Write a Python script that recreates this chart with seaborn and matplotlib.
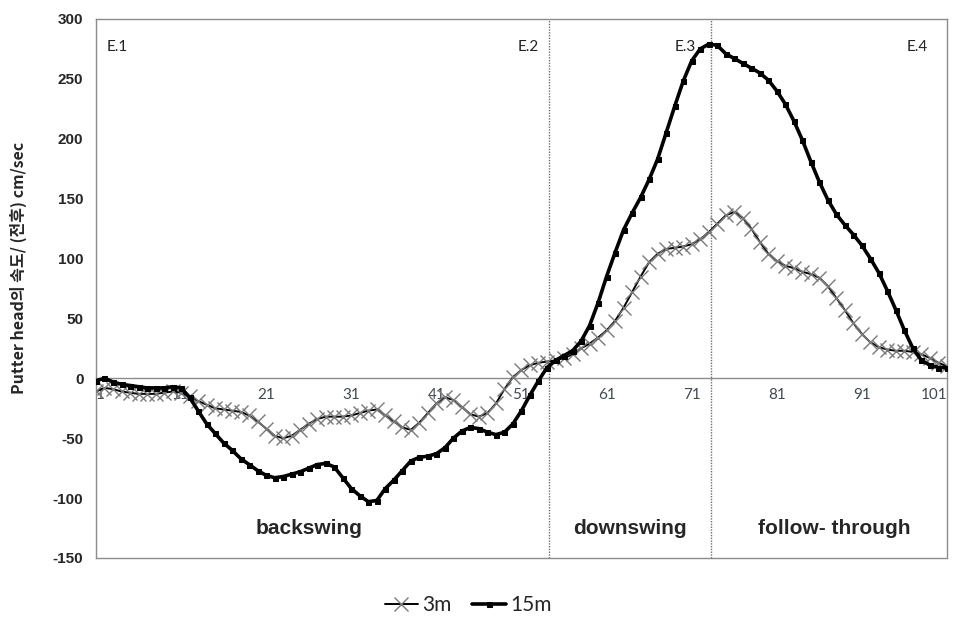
import matplotlib
matplotlib.use("Agg")
import matplotlib.pyplot as plt
import seaborn as sns
import numpy as np
import pandas as pd

# Frame index of the putting stroke (1..101)
frames = list(range(1, 102))

# Putter head velocity (cm/sec), 3 m putt
speed_3m = [
    -11, -8, -9, -11, -12, -13, -13, -13, -12, -11,
    -12, -15, -19, -22, -25, -26, -27, -28, -31, -36,
    -42, -48, -50, -48, -43, -38, -34, -32, -32, -32,
    -31, -29, -27, -26, -31, -36, -41, -43, -37, -29,
    -21, -16, -18, -24, -30, -32, -29, -21, -9, 1,
    7, 11, 13, 14, 15, 17, 20, 25, 29, 34,
    40, 48, 59, 72, 85, 97, 104, 108, 109, 110,
    112, 116, 122, 129, 136, 139, 134, 125, 114, 104,
    98, 94, 92, 89, 87, 84, 77, 67, 57, 46,
    37, 30, 26, 24, 23, 23, 22, 20, 17, 13,
    10,
]

# Putter head velocity (cm/sec), 15 m putt
speed_15m = [
    -2, 0, -3, -5, -6, -7, -8, -8, -8, -7,
    -8, -16, -27, -38, -46, -54, -60, -67, -72, -77,
    -81, -83, -82, -80, -78, -75, -72, -71, -74, -83,
    -92, -98, -103, -102, -92, -85, -77, -69, -66, -65,
    -63, -58, -50, -44, -41, -42, -45, -47, -45, -38,
    -27, -14, -2, 9, 15, 19, 23, 31, 44, 63,
    85, 105, 124, 138, 151, 166, 183, 205, 227, 248,
    265, 275, 279, 278, 271, 267, 263, 259, 255, 249,
    240, 229, 215, 199, 181, 164, 149, 137, 128, 120,
    111, 100, 88, 73, 57, 40, 25, 15, 11, 9,
    9,
]

series_names = ["3m", "15m"]

# Event markers and swing phases
event_labels = ["E.1", "E.2", "E.3", "E.4"]
event_label_x = [2.2, 50.5, 69.0, 96.3]
phase_bounds = [54.2, 73.3]
phase_labels = ["backswing", "downswing", "follow- through"]
phase_label_x = [26.0, 63.7, 87.8]

y_ticks = list(range(-150, 301, 50))
x_major = list(range(1, 102, 10))

df = pd.DataFrame({"frame": frames * 2,
                   "speed": speed_3m + speed_15m,
                   "series": [series_names[0]] * len(frames) + [series_names[1]] * len(frames)})

sns.set_style("white")
plt.rcParams["font.family"] = ["Liberation Sans", "DejaVu Sans"]

grey = "#8c8c8c"
fig = plt.figure(figsize=(9.55, 6.22), dpi=100)
ax = fig.add_axes([0.1005, 0.1029, 0.8911, 0.8666])

d3 = df[df["series"] == "3m"]
d15 = df[df["series"] == "15m"]
sns.lineplot(data=d3, x="frame", y="speed", ax=ax, color="black", lw=1.4,
             marker="x", markersize=10.5, markeredgecolor="#7a7a7a",
             markeredgewidth=1.0, label="3m", zorder=3)
sns.lineplot(data=d15, x="frame", y="speed", ax=ax, color="black", lw=2.6,
             marker="s", markersize=3.6, markeredgecolor="black",
             markerfacecolor="black", label="15m", zorder=4)

ax.set_xlim(1, 101)
ax.set_ylim(-150, 300)
ax.set_xlabel("")
ax.set_ylabel("")

# y axis
ax.set_yticks(y_ticks)
ax.set_yticklabels([str(v) for v in y_ticks], fontweight="bold", fontsize=11)
ax.tick_params(axis="y", direction="out", length=5, width=1, color=grey, pad=4)

# x axis sits on the zero line with a tick for every frame
ax.spines["bottom"].set_position(("data", 0))
ax.set_xticks(x_major)
ax.set_xticks(frames, minor=True)
ax.set_xticklabels([str(v) for v in x_major], fontsize=11, color="#3f4a52",
                   family=["Lato", "DejaVu Sans"])
ax.tick_params(axis="x", which="both", direction="out", length=5, width=1,
               color=grey, pad=2)
xlabs = ax.get_xticklabels()
xlabs[0].set_horizontalalignment("left")
xlabs[-1].set_horizontalalignment("right")

for s in ["left", "right", "top", "bottom"]:
    ax.spines[s].set_visible(True)
    ax.spines[s].set_color(grey)
    ax.spines[s].set_linewidth(1.0)
# lower frame edge of the plot area
ax.plot([0, 1], [0, 0], transform=ax.transAxes, color=grey, lw=1.0, clip_on=False)

# phase boundaries
for xb in phase_bounds:
    ax.axvline(xb, color="#6e6e6e", lw=1.0, ls=(0, (1, 1)), zorder=2)

for lab, xl in zip(event_labels, event_label_x):
    ax.text(xl, 277, lab, fontsize=11, family=["Lato", "DejaVu Sans"],
            ha="left", va="center", color="#222222")

for lab, xl in zip(phase_labels, phase_label_x):
    ax.text(xl, -125, lab, fontsize=15, fontweight="bold",
            family=["Liberation Sans", "DejaVu Sans"], ha="center", va="center")

fig.text(0.019, 0.57, "Putter head의 속도/ (전후) cm/sec", rotation=90,
         fontsize=11.5, fontweight="bold",
         family=["Noto Sans CJK KR", "DejaVu Sans"], ha="center", va="center")

handles, labels = ax.get_legend_handles_labels()
ax.get_legend().remove()
fig.legend(handles, labels, loc="center", bbox_to_anchor=(0.49, 0.027), ncol=2,
           frameon=False, prop={"family": "Lato", "size": 15},
           handlelength=1.6, handletextpad=0.2, columnspacing=1.0)

fig.savefig("out.png", dpi=100)
